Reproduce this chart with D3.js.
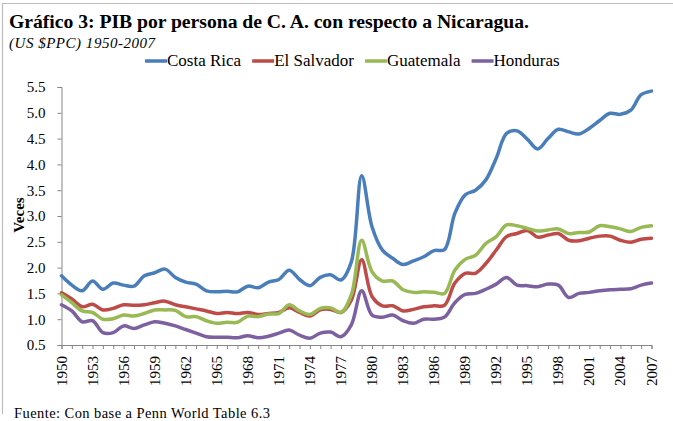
<!DOCTYPE html>
<html lang="es">
<head>
<meta charset="UTF-8">
<title>PIB por persona de C. A.</title>
<style>
  body { margin: 0; background: #fff; }
  svg { display: block; }
  svg text { font-family: "Liberation Serif", "Times New Roman", Times, serif; fill: #000; }
</style>
</head>
<body>
<script src="https://d3js.org/d3.v7.min.js"></script>
<div id="chart"></div>
<script>
// years 1950-2007
var years = d3.range(1950, 2008);

// ratio to Nicaragua (veces)
var costaRica = [1.84, 1.66, 1.55, 1.74, 1.58, 1.70, 1.66, 1.64, 1.84, 1.90,
                 1.97, 1.81, 1.72, 1.68, 1.55, 1.53, 1.54, 1.53, 1.64, 1.61,
                 1.72, 1.77, 1.95, 1.77, 1.65, 1.81, 1.86, 1.76, 2.11, 3.78,
                 2.79, 2.34, 2.18, 2.06, 2.13, 2.21, 2.33, 2.35, 3.05, 3.41,
                 3.50, 3.70, 4.12, 4.60, 4.65, 4.49, 4.30, 4.50, 4.68, 4.63,
                 4.59, 4.70, 4.85, 4.99, 4.97, 5.05, 5.35, 5.42];
var elSalvador = [1.51, 1.39, 1.24, 1.29, 1.18, 1.21, 1.28, 1.27, 1.28, 1.32,
                  1.35, 1.28, 1.24, 1.20, 1.16, 1.11, 1.13, 1.11, 1.13, 1.09,
                  1.11, 1.13, 1.22, 1.13, 1.06, 1.18, 1.19, 1.13, 1.37, 2.15,
                  1.44, 1.26, 1.26, 1.16, 1.19, 1.24, 1.26, 1.27, 1.70, 1.89,
                  1.89, 2.08, 2.34, 2.60, 2.66, 2.72, 2.59, 2.63, 2.66, 2.53,
                  2.52, 2.57, 2.61, 2.61, 2.53, 2.49, 2.55, 2.57];
var guatemala = [1.47, 1.32, 1.16, 1.13, 1.00, 1.01, 1.08, 1.06, 1.11, 1.18,
                 1.18, 1.17, 1.05, 1.05, 0.97, 0.92, 0.94, 0.94, 1.06, 1.05,
                 1.10, 1.11, 1.28, 1.16, 1.09, 1.21, 1.22, 1.13, 1.47, 2.53,
                 1.92, 1.74, 1.74, 1.57, 1.52, 1.53, 1.52, 1.50, 1.95, 2.16,
                 2.24, 2.47, 2.60, 2.83, 2.81, 2.76, 2.71, 2.73, 2.75, 2.66,
                 2.68, 2.69, 2.81, 2.79, 2.75, 2.70, 2.78, 2.81];
var honduras = [1.28, 1.16, 0.95, 0.97, 0.74, 0.74, 0.87, 0.82, 0.89, 0.95,
                0.92, 0.87, 0.80, 0.73, 0.66, 0.65, 0.65, 0.64, 0.68, 0.64,
                0.67, 0.73, 0.79, 0.69, 0.63, 0.73, 0.75, 0.66, 0.89, 1.55,
                1.08, 1.04, 1.08, 0.97, 0.92, 1.00, 1.00, 1.04, 1.32, 1.48,
                1.50, 1.58, 1.68, 1.81, 1.66, 1.65, 1.63, 1.68, 1.66, 1.42,
                1.50, 1.52, 1.55, 1.57, 1.58, 1.59, 1.66, 1.70];

var seriesNames = ["Costa Rica", "El Salvador", "Guatemala", "Honduras"];
var seriesColors = ["#4a7ebb", "#be4b48", "#98b954", "#7d60a0"];
var seriesValues = [costaRica, elSalvador, guatemala, honduras];

var yTicks = d3.range(0.5, 5.51, 0.5);
var xLabelYears = d3.range(1950, 2008, 3);

var serif = "'Liberation Serif', 'Times New Roman', Times, serif";

var W = 673, H = 421;
var svg = d3.select("#chart").append("svg")
    .attr("width", W).attr("height", H)
    .attr("font-family", serif);

// outer frame (top and left edges visible)
svg.append("path")
    .attr("d", "M2.5,414V3.5H673")
    .attr("fill", "none").attr("stroke", "#bdbdbd").attr("stroke-width", 1.2);

// title + subtitle
svg.append("text").attr("x", 9).attr("y", 28)
    .style("font-family", serif)
    .style("font-size", "19.7px").style("font-weight", "bold")
    .attr("textLength", 520)
    .text("Gráfico 3: PIB por persona de C. A. con respecto a Nicaragua.");
svg.append("text").attr("x", 9).attr("y", 48)
    .style("font-family", serif)
    .style("font-size", "15px").style("font-style", "italic")
    .attr("textLength", 146)
    .text("(US $PPC) 1950-2007");

// scales
var x = d3.scaleLinear().domain([1950, 2007]).range([61.5, 651.5]);
var y = d3.scaleLinear().domain([0.5, 5.5]).range([345, 87]);

// y axis
var yAxis = svg.append("g")
    .attr("transform", "translate(" + x.range()[0] + ",0)")
    .call(d3.axisLeft(y).tickValues(yTicks).tickSize(4).tickPadding(12)
        .tickFormat(d3.format(".1f")));
yAxis.attr("font-family", serif);
yAxis.selectAll("text").style("font-size", "15px")
    .style("font-family", serif).attr("fill", "#000");

// x axis with a tick every year
svg.append("g")
    .attr("transform", "translate(0," + y.range()[0] + ")")
    .call(d3.axisBottom(x).tickValues(years).tickSize(4).tickFormat(""));

svg.selectAll(".domain, .tick line").attr("stroke", "#868686");

// rotated year labels
svg.append("g").selectAll("text")
  .data(xLabelYears)
  .enter().append("text")
    .attr("transform", function(d) { return "translate(" + (x(d) + 5) + "," + 356 + ") rotate(-90)"; })
    .attr("text-anchor", "end")
    .style("font-family", serif)
    .style("font-size", "15px")
    .text(function(d) { return d; });

// y axis title
svg.append("text")
    .attr("transform", "translate(24,215) rotate(-90)")
    .attr("text-anchor", "middle")
    .style("font-family", serif)
    .style("font-size", "15px").style("font-weight", "bold")
    .text("Veces");

// lines
var line = d3.line()
    .x(function(d, i) { return x(years[i]); })
    .y(function(d) { return y(d); })
    .curve(d3.curveCatmullRom.alpha(0.5));

svg.append("g").selectAll("path")
  .data(seriesValues)
  .enter().append("path")
    .attr("d", line)
    .attr("fill", "none")
    .attr("stroke", function(d, i) { return seriesColors[i]; })
    .attr("stroke-width", 3.5)
    .attr("stroke-linejoin", "round")
    .attr("stroke-linecap", "round");

// legend: swatch, then label, then a small gap
var legend = svg.append("g");
var lx = 145;
seriesNames.forEach(function(name, i) {
  legend.append("line")
      .attr("x1", lx).attr("x2", lx + 22).attr("y1", 61).attr("y2", 61)
      .attr("stroke", seriesColors[i]).attr("stroke-width", 3.5);
  var t = legend.append("text")
      .attr("x", lx + 22).attr("y", 66)
      .style("font-family", serif)
      .style("font-size", "17px")
      .text(name);
  lx += 22 + t.node().getComputedTextLength() + 11;
});

// source note
svg.append("text").attr("x", 14).attr("y", 418)
    .style("font-family", serif)
    .style("font-size", "14.5px")
    .attr("textLength", 256)
    .text("Fuente: Con base a Penn World Table 6.3");
</script>
</body>
</html>
